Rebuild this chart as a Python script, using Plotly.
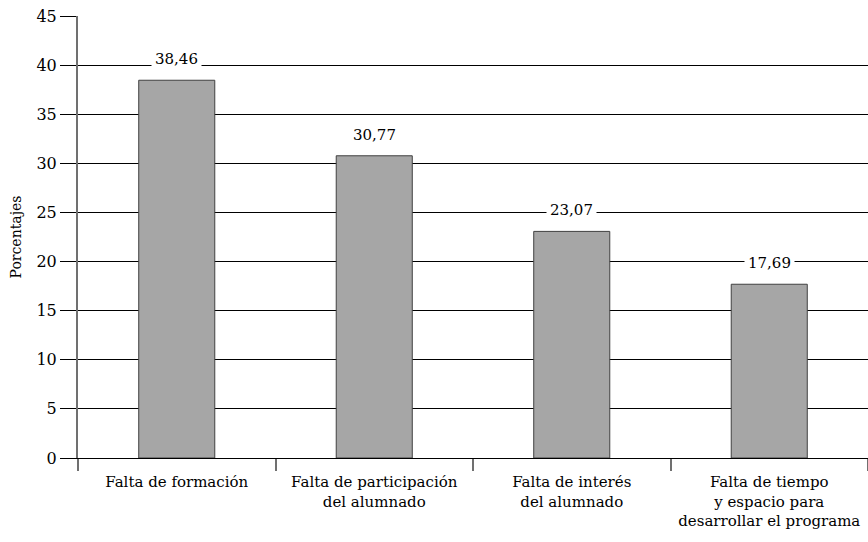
import plotly.graph_objects as go

categories = ["Falta de formación", "Falta de participación<br>del alumnado",
              "Falta de interés<br>del alumnado",
              "Falta de tiempo<br>y espacio para<br>desarrollar el programa"]
values = [38.46, 30.77, 23.07, 17.69]
value_labels = ["38,46", "30,77", "23,07", "17,69"]
yticks = [0, 5, 10, 15, 20, 25, 30, 35, 40, 45]

FONT = "DejaVu Serif"

fig = go.Figure()
fig.add_trace(go.Bar(
    x=categories, y=values, width=0.385,
    marker=dict(color="#a6a6a6", line=dict(color="#404040", width=1)),
))
for c, v, t in zip(categories, values, value_labels):
    fig.add_annotation(x=c, y=v, text=t, showarrow=False, yshift=21,
                       bgcolor="white", font=dict(family=FONT, size=15, color="black"),
                       borderpad=3)

fig.update_layout(
    width=868, height=542,
    margin=dict(l=78, r=0, t=16, b=84),
    plot_bgcolor="white", paper_bgcolor="white",
    showlegend=False,
    font=dict(family=FONT, size=15, color="black"),
    bargap=0.615,
)
fig.update_xaxes(
    type="category", range=[-0.5, 3.5], automargin=False,
    tickson="boundaries", ticks="outside", ticklen=12, tickcolor="#707070", tickwidth=2,
    ticklabelstandoff=10,
    showline=True, linecolor="black", linewidth=1,
    showgrid=False, tickfont=dict(family=FONT, size=15, color="black"),
)
fig.update_yaxes(
    range=[0, 45], tickvals=yticks, ticks="outside", ticklen=16, tickcolor="black",
    automargin=False,
    showgrid=True, gridcolor="black", gridwidth=1, zeroline=False,
    showline=True, linecolor="#707070", linewidth=2,
    tickfont=dict(family=FONT, size=16, color="black"),
    title=dict(text="Porcentajes", font=dict(family=FONT, size=14, color="black"), standoff=12),
)
fig.write_html("out.html", post_script="document.body.style.margin='0';",
               config={"displayModeBar": False})
